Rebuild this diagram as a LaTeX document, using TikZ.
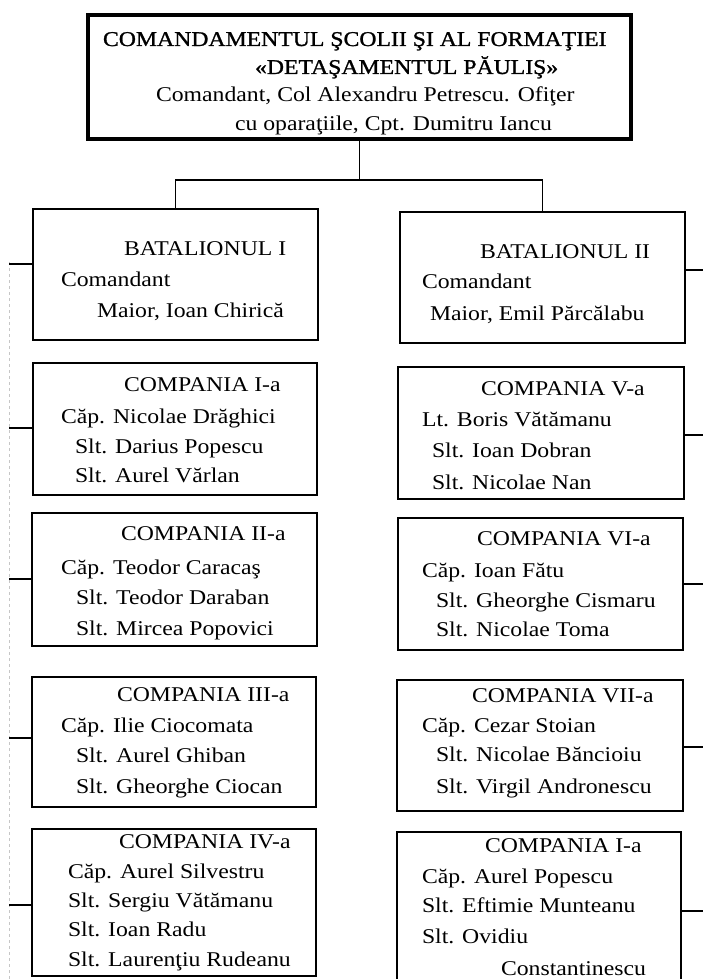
\documentclass[tikz,border=0pt]{standalone}
\usepackage{fontspec}
\setmainfont{Liberation Serif}[FakeStretch=1.13]
\newfontfamily\titlefont{Liberation Serif}[FakeStretch=1.13,FakeBold=1.2]
\newcommand\tl[4]{\node[txt] (#1) at (#2,#3) {#4};}
\newcommand\ttline[4]{\node[ttl] (#1) at (#2,#3) {#4};}
\begin{document}
\begin{tikzpicture}[x=1pt,y=-1pt,
  boxst/.style={draw, line width=1.6pt, rectangle, inner sep=0pt, outer sep=0pt, anchor=north west},
  topst/.style={draw, line width=4.5pt, rectangle, inner sep=0pt, outer sep=0pt, anchor=north west},
  conn/.style={line width=1.4pt},
  spine/.style={line width=1pt, gray!45, dash pattern=on 3pt off 3pt},
  txt/.style={anchor=base west, inner sep=0pt, outer sep=0pt, font=\fontsize{21}{25}\selectfont},
  ttl/.style={anchor=base west, inner sep=0pt, outer sep=0pt, font=\fontsize{21}{25}\selectfont\titlefont}]
\useasboundingbox (0,0) rectangle (703,979);
\clip (0,0) rectangle (703,979);

% boxes
\node[topst, minimum width=543pt, minimum height=124pt] (top) at (88,15) {};
\node[boxst, minimum width=285pt, minimum height=131pt] (bat1) at (33,209) {};
\node[boxst, minimum width=285pt, minimum height=131pt] (bat2) at (400,212) {};
\node[boxst, minimum width=284pt, minimum height=132pt] (c1) at (33,363) {};
\node[boxst, minimum width=286pt, minimum height=132pt] (c5) at (398,367) {};
\node[boxst, minimum width=285pt, minimum height=133pt] (c2) at (32,513) {};
\node[boxst, minimum width=285pt, minimum height=132pt] (c6) at (398,518) {};
\node[boxst, minimum width=284pt, minimum height=130pt] (c3) at (32,677) {};
\node[boxst, minimum width=286pt, minimum height=131pt] (c7) at (397,680) {};
\node[boxst, minimum width=284pt, minimum height=147pt] (c4) at (32,829) {};
\node[boxst, minimum width=284pt, minimum height=168pt] (c8) at (397,832) {};

% connectors from the top
\coordinate (hub) at (359.5,180);
\draw[conn] (top.south) -- (hub);
\draw[conn] (bat1.north) |- (hub) -| (bat2.north);

% left spine and stubs
\coordinate (sp0) at (9,262);
\coordinate (sp1) at (9,979);
\draw[spine] (sp0) -- (sp1);
\coordinate (l1) at (9,264);
\coordinate (l2) at (9,428);
\coordinate (l3) at (9,579);
\coordinate (l4) at (9,738);
\coordinate (l5) at (9,905);
\draw[conn] (l1) -- (l1 -| bat1.west);
\draw[conn] (l2) -- (l2 -| c1.west);
\draw[conn] (l3) -- (l3 -| c2.west);
\draw[conn] (l4) -- (l4 -| c3.west);
\draw[conn] (l5) -- (l5 -| c4.west);

% right stubs
\coordinate (r1) at (703,270);
\coordinate (r2) at (703,435);
\coordinate (r3) at (703,584);
\coordinate (r4) at (703,747);
\coordinate (r5) at (703,911);
\draw[conn] (bat2.east |- r1) -- (r1);
\draw[conn] (c5.east |- r2) -- (r2);
\draw[conn] (c6.east |- r3) -- (r3);
\draw[conn] (c7.east |- r4) -- (r4);
\draw[conn] (c8.east |- r5) -- (r5);

% texts
\ttline{ta}{103}{46}{COMANDAMENTUL ŞCOLII ŞI AL FORMAŢIEI}
\ttline{tb}{255}{74}{«DETAŞAMENTUL PĂULIŞ»}
\tl{tc}{156}{102}{Comandant, Col Alexandru Petrescu. Ofiţer}
\tl{td}{235}{131}{cu oparaţiile, Cpt. Dumitru Iancu}

\tl{b1a}{124}{255}{BATALIONUL I}
\tl{b1b}{61}{286}{Comandant}
\tl{b1c}{97}{317}{Maior, Ioan Chirică}

\tl{b2a}{480}{258}{BATALIONUL II}
\tl{b2b}{422}{288}{Comandant}
\tl{b2c}{430}{320}{Maior, Emil Părcălabu}

\tl{c1a}{124}{391}{COMPANIA I-a}
\tl{c1b}{61}{423}{Căp. Nicolae Drăghici}
\tl{c1c}{75}{453}{Slt. Darius Popescu}
\tl{c1d}{75}{482}{Slt. Aurel Vărlan}

\tl{c5a}{481}{395}{COMPANIA V-a}
\tl{c5b}{422}{426}{Lt. Boris Vătămanu}
\tl{c5c}{432}{457}{Slt. Ioan Dobran}
\tl{c5d}{432}{489}{Slt. Nicolae Nan}

\tl{c2a}{121}{540}{COMPANIA II-a}
\tl{c2b}{61}{574}{Căp. Teodor Caracaş}
\tl{c2c}{76}{604}{Slt. Teodor Daraban}
\tl{c2d}{76}{635}{Slt. Mircea Popovici}

\tl{c6a}{477}{545}{COMPANIA VI-a}
\tl{c6b}{422}{577}{Căp. Ioan Fătu}
\tl{c6c}{436}{607}{Slt. Gheorghe Cismaru}
\tl{c6d}{436}{636}{Slt. Nicolae Toma}

\tl{c3a}{117}{701}{COMPANIA III-a}
\tl{c3b}{61}{732}{Căp. Ilie Ciocomata}
\tl{c3c}{76}{762}{Slt. Aurel Ghiban}
\tl{c3d}{76}{793}{Slt. Gheorghe Ciocan}

\tl{c7a}{472}{702}{COMPANIA VII-a}
\tl{c7b}{422}{732}{Căp. Cezar Stoian}
\tl{c7c}{436}{761}{Slt. Nicolae Băncioiu}
\tl{c7d}{436}{793}{Slt. Virgil Andronescu}

\tl{c4a}{119}{848}{COMPANIA IV-a}
\tl{c4b}{68}{878}{Căp. Aurel Silvestru}
\tl{c4c}{68}{907}{Slt. Sergiu Vătămanu}
\tl{c4d}{68}{936}{Slt. Ioan Radu}
\tl{c4e}{68}{966}{Slt. Laurenţiu Rudeanu}

\tl{c8a}{485}{852}{COMPANIA I-a}
\tl{c8b}{422}{883}{Căp. Aurel Popescu}
\tl{c8c}{422}{912}{Slt. Eftimie Munteanu}
\tl{c8d}{422}{943}{Slt. Ovidiu}
\tl{c8e}{501}{975}{Constantinescu}
\end{tikzpicture}
\end{document}
